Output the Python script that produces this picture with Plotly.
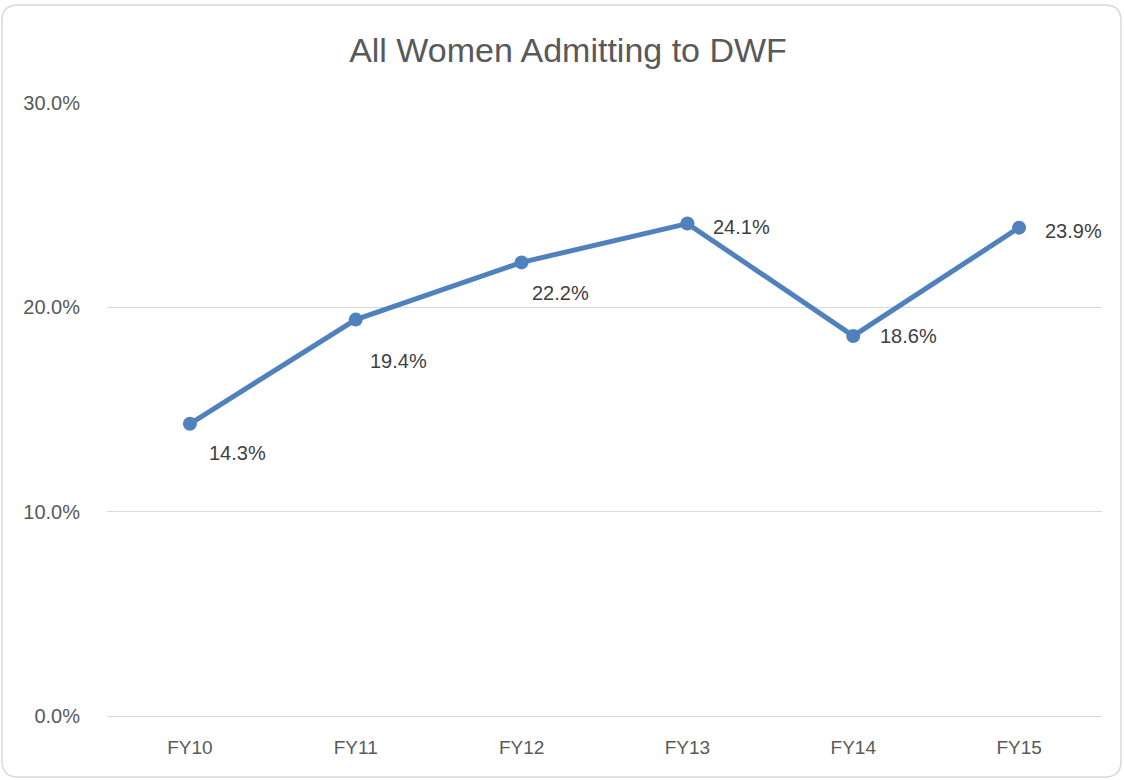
import plotly.graph_objects as go

categories = ["FY10", "FY11", "FY12", "FY13", "FY14", "FY15"]
values = [0.143, 0.194, 0.222, 0.241, 0.186, 0.239]
labels = ["14.3%", "19.4%", "22.2%", "24.1%", "18.6%", "23.9%"]
y_tick_vals = [0, 0.1, 0.2, 0.3]
y_tick_text = ["0.0%", "10.0%", "20.0%", "30.0%"]

# label offsets in pixels (styling only)
label_dx = [17, 12, 8, 24, 25, 24]
label_dy = [-29, -41, -31, -3, 0, -3]

W, H = 1124, 780
L, R, T, B = 107, 22, 103, 64
pw, ph = W - L - R, H - T - B
FONT = "Liberation Sans, Arial"

def px_to_paper(x, y):
    return (x - L) / pw, (H - B - y) / ph

fig = go.Figure()
fig.add_trace(go.Scatter(
    x=categories, y=values, mode="lines+markers",
    line=dict(color="#4F81BD", width=5),
    marker=dict(color="#4F81BD", size=14),
    hoverinfo="skip", showlegend=False,
))

annotations = []
for c, v, t, dx, dy in zip(categories, values, labels, label_dx, label_dy):
    annotations.append(dict(x=c, y=v, text=t, showarrow=False, xanchor="left",
                            yanchor="middle", xshift=dx, yshift=dy,
                            font=dict(family=FONT, size=20, color="#404040")))

# rounded border around the chart area
x0p, y0p, x1p, y1p, r = 2, 5, 1121, 777, 16
def P(x, y):
    a, b = px_to_paper(x, y)
    return f"{a:.5f},{b:.5f}"
path = (f"M {P(x0p + r, y0p)} L {P(x1p - r, y0p)} Q {P(x1p, y0p)} {P(x1p, y0p + r)} "
        f"L {P(x1p, y1p - r)} Q {P(x1p, y1p)} {P(x1p - r, y1p)} "
        f"L {P(x0p + r, y1p)} Q {P(x0p, y1p)} {P(x0p, y1p - r)} "
        f"L {P(x0p, y0p + r)} Q {P(x0p, y0p)} {P(x0p + r, y0p)} Z")

fig.update_layout(
    width=W, height=H,
    margin=dict(l=L, r=R, t=T, b=B, autoexpand=False),
    paper_bgcolor="white", plot_bgcolor="white",
    title=dict(text="All Women Admitting to DWF", x=568 / W, xanchor="center",
               y=1 - 50 / H, yanchor="middle",
               font=dict(family=FONT, size=34, color="#595959")),
    annotations=annotations,
    shapes=[dict(type="path", path=path, xref="paper", yref="paper",
                 line=dict(color="#D9D9D9", width=1.5), layer="below")],
    xaxis=dict(range=[-0.5, len(categories) - 0.5],
               showgrid=False, showline=False, zeroline=False,
               ticks="outside", ticklen=14, tickcolor="rgba(0,0,0,0)",
               tickfont=dict(family=FONT, size=19, color="#595959"),
               fixedrange=True),
    yaxis=dict(range=[0, 0.30], tickvals=y_tick_vals, ticktext=y_tick_text,
               showgrid=True, gridcolor="#D9D9D9", gridwidth=1.3,
               zeroline=True, zerolinecolor="#D9D9D9", zerolinewidth=1.3,
               showline=False, ticks="outside", ticklen=22, tickcolor="rgba(0,0,0,0)",
               tickfont=dict(family=FONT, size=20, color="#595959"),
               fixedrange=True),
)

fig.write_html("out.html", config={"displayModeBar": False},
               post_script="document.body.style.margin='0';document.body.style.overflow='hidden';")
